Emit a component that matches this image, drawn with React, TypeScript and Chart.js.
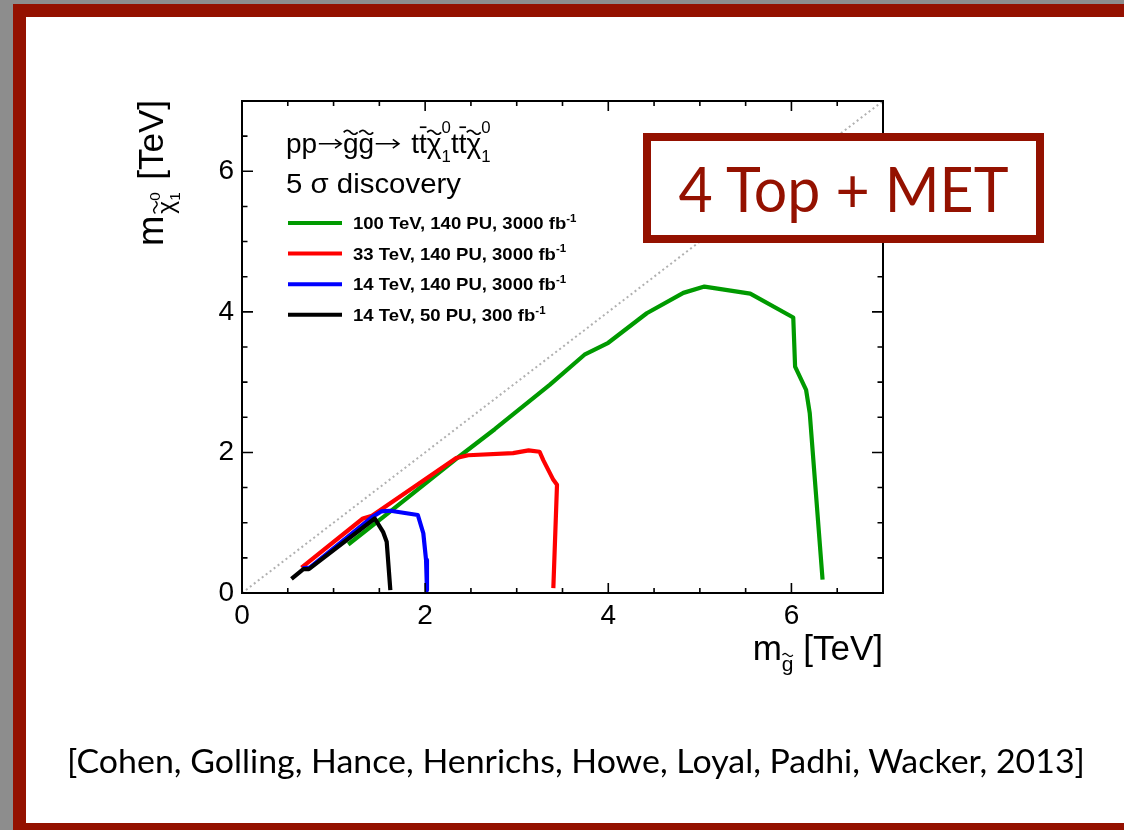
import React, { useEffect, useLayoutEffect, useRef } from 'react';
import { Chart, registerables } from 'chart.js';

Chart.register(...registerables);

// ---------------- data ----------------
const seriesLabels = [
  '100 TeV, 140 PU, 3000 fb',
  '33 TeV, 140 PU, 3000 fb',
  '14 TeV, 140 PU, 3000 fb',
  '14 TeV, 50 PU, 300 fb',
];
const lumiExponent = '-1';
const seriesColors = ['#009a00', '#ff0000', '#0000ff', '#000000'];

const green100X = [1.16, 1.6, 2.34, 2.76, 3.36, 3.74, 4.0, 4.42, 4.82, 5.05, 5.55, 6.02, 6.04, 6.16, 6.2, 6.34];
const green100Y = [0.69, 1.14, 1.91, 2.33, 2.96, 3.39, 3.56, 3.98, 4.27, 4.36, 4.26, 3.92, 3.22, 2.89, 2.56, 0.19];

const red33X = [0.65, 1.32, 1.42, 2.34, 2.47, 2.96, 3.13, 3.25, 3.29, 3.4, 3.44, 3.4];
const red33Y = [0.36, 1.06, 1.1, 1.92, 1.96, 1.99, 2.03, 2.01, 1.89, 1.61, 1.54, 0.07];

const blue14X = [0.66, 0.74, 1.42, 1.52, 1.62, 1.92, 1.98, 2.01, 2.02];
const blue14Y = [0.35, 0.36, 1.08, 1.16, 1.17, 1.11, 0.85, 0.47, 0.04];

const black14X = [0.54, 0.67, 0.73, 1.45, 1.54, 1.58, 1.62];
const black14Y = [0.2, 0.34, 0.34, 1.06, 0.87, 0.73, 0.04];

const diagonalX = [0, 7];
const diagonalY = [0, 7];

const axisMin = 0;
const axisMax = 7;
const xTickLabels = ['0', '2', '4', '6'];
const yTickLabels = ['0', '2', '4', '6'];
const minorTickStep = 0.5;
const majorTickStep = 2;

const boxText = '4 Top + MET';
const citation = '[Cohen, Golling, Hance, Henrichs, Howe, Loyal, Padhi, Wacker, 2013]';

// ---------------- drawing helpers ----------------
const FONT = '"Liberation Sans", Arial, Helvetica, sans-serif';
const SLIDE_RED = '#941100';

type Part = {
  t?: string;
  s?: number;
  dy?: number;
  tilde?: boolean;
  bar?: boolean;
  keep?: boolean;
  arrow?: number;
  gap?: number;
};

function drawTilde(ctx: CanvasRenderingContext2D, cx: number, cy: number, w: number, a: number, lw: number) {
  ctx.save();
  ctx.lineWidth = lw;
  ctx.strokeStyle = ctx.fillStyle as string;
  ctx.beginPath();
  for (let i = 0; i <= 16; i++) {
    const t = i / 16;
    const px = cx - w / 2 + t * w;
    const py = cy - a * Math.sin(2 * Math.PI * t);
    if (i === 0) ctx.moveTo(px, py);
    else ctx.lineTo(px, py);
  }
  ctx.stroke();
  ctx.restore();
}

function richText(
  ctx: CanvasRenderingContext2D,
  parts: Part[],
  x: number,
  y: number,
  size: number,
  weight: string,
  draw: boolean,
  sx = 1
): number {
  ctx.save();
  ctx.translate(x, y);
  ctx.scale(sx, 1);
  let cx = 0;
  for (const p of parts) {
    const s = (p.s ?? 1) * size;
    const by = (p.dy ?? 0) * size;
    if (p.gap) {
      cx += p.gap * size;
      continue;
    }
    if (p.arrow) {
      const w = p.arrow * s;
      if (draw) {
        const ay = by - 0.33 * s;
        ctx.save();
        ctx.strokeStyle = ctx.fillStyle as string;
        ctx.lineWidth = Math.max(1, 0.055 * s);
        ctx.beginPath();
        ctx.moveTo(cx + 0.06 * s, ay);
        ctx.lineTo(cx + w - 0.06 * s, ay);
        ctx.moveTo(cx + w - 0.28 * s, ay - 0.16 * s);
        ctx.lineTo(cx + w - 0.06 * s, ay);
        ctx.lineTo(cx + w - 0.28 * s, ay + 0.16 * s);
        ctx.stroke();
        ctx.restore();
      }
      cx += w;
      continue;
    }
    const txt = p.t ?? '';
    ctx.font = `${weight} ${s}px ${FONT}`;
    const w = ctx.measureText(txt).width;
    if (draw) {
      ctx.fillText(txt, cx, by);
      if (p.tilde) drawTilde(ctx, cx + w / 2, by - 0.74 * s, 0.5 * s, 0.07 * s, Math.max(1, 0.06 * s));
      if (p.bar) ctx.fillRect(cx + w * 0.1, by - 0.95 * s, w * 0.85, Math.max(1, 0.06 * s));
    }
    if (!p.keep) cx += w;
  }
  ctx.restore();
  return cx * sx;
}

const titleParts: Part[] = [
  { t: 'pp' },
  { arrow: 0.92 },
  { t: 'g', tilde: true },
  { t: 'g', tilde: true },
  { arrow: 0.95 },
  { gap: 0.38 },
  { t: 't' },
  { t: 't', bar: true },
  { t: 'χ', tilde: true },
  { t: '1', s: 0.6, dy: 0.32, keep: true },
  { t: '0', s: 0.6, dy: -0.72 },
  { t: 't' },
  { t: 't', bar: true },
  { t: 'χ', tilde: true },
  { t: '1', s: 0.6, dy: 0.32, keep: true },
  { t: '0', s: 0.6, dy: -0.72 },
];

const yTitleParts: Part[] = [
  { t: 'm', s: 1.04 },
  { gap: 0.06 },
  { t: 'χ', s: 0.7, dy: 0.3, tilde: true },
  { t: '1', s: 0.44, dy: 0.48, keep: true },
  { t: '0', s: 0.44, dy: -0.08 },
  { gap: 0.08 },
  { t: ' [TeV]' },
];

const xTitleParts: Part[] = [
  { t: 'm' },
  { t: 'g', s: 0.6, dy: 0.3, tilde: true },
  { t: ' [TeV]' },
];

const rootPlugin = {
  id: 'rootStyle',
  afterDatasetsDraw(chart: any) {
    const { ctx, chartArea: a, scales } = chart;
    const x = scales.x;
    const y = scales.y;
    ctx.save();
    ctx.strokeStyle = '#000';
    ctx.lineWidth = 1.6;
    ctx.beginPath();
    const n = Math.round((axisMax - axisMin) / minorTickStep);
    for (let i = 0; i <= n; i++) {
      const v = axisMin + i * minorTickStep;
      const major = Math.abs(v / majorTickStep - Math.round(v / majorTickStep)) < 1e-9;
      const px = x.getPixelForValue(v);
      const lx = major ? 10 : 5;
      ctx.moveTo(px, a.bottom);
      ctx.lineTo(px, a.bottom - lx);
      ctx.moveTo(px, a.top);
      ctx.lineTo(px, a.top + lx);
      const py = y.getPixelForValue(v);
      const ly = major ? 11 : 5.5;
      ctx.moveTo(a.left, py);
      ctx.lineTo(a.left + ly, py);
      ctx.moveTo(a.right, py);
      ctx.lineTo(a.right - ly, py);
    }
    ctx.stroke();
    ctx.lineWidth = 2;
    ctx.strokeRect(a.left, a.top, a.right - a.left, a.bottom - a.top);
    ctx.restore();
  },
  afterDraw(chart: any) {
    const { ctx, chartArea: a } = chart;
    ctx.save();
    ctx.fillStyle = '#000';
    ctx.textBaseline = 'alphabetic';
    ctx.textAlign = 'left';

    // process title
    richText(ctx, titleParts, a.left + 44, a.top + 52, 28, 'normal', true, 1.0);
    richText(ctx, [{ t: '5 σ discovery' }], a.left + 44, a.top + 92, 28, 'normal', true, 1.05);

    // legend
    const rowY0 = a.top + 122;
    const rowGap = 30.6;
    seriesLabels.forEach((label, i) => {
      const ry = rowY0 + i * rowGap;
      ctx.save();
      ctx.strokeStyle = seriesColors[i];
      ctx.lineWidth = 4;
      ctx.beginPath();
      ctx.moveTo(a.left + 46, ry);
      ctx.lineTo(a.left + 100, ry);
      ctx.stroke();
      ctx.restore();
      ctx.fillStyle = '#000';
      richText(
        ctx,
        [{ t: label }, { t: lumiExponent, s: 0.62, dy: -0.42 }],
        a.left + 111,
        ry + 6,
        17,
        'bold',
        true,
        1.09
      );
    });

    // x axis title (right aligned)
    const xw = richText(ctx, xTitleParts, 0, 0, 35, 'normal', false);
    richText(ctx, xTitleParts, a.right - xw, a.bottom + 67, 35, 'normal', true);

    // y axis title (rotated, right aligned to top)
    const yw = richText(ctx, yTitleParts, 0, 0, 35, 'normal', false);
    ctx.save();
    ctx.translate(a.left - 79, a.top - 1 + yw);
    ctx.rotate(-Math.PI / 2);
    richText(ctx, yTitleParts, 0, 0, 35, 'normal', true);
    ctx.restore();

    ctx.restore();
  },
};

function pts(xs: number[], ys: number[]) {
  return xs.map((v, i) => ({ x: v, y: ys[i] }));
}

export default function App() {
  const canvasRef = useRef<HTMLCanvasElement>(null);
  const citeRef = useRef<HTMLSpanElement>(null);
  const boxRef = useRef<HTMLSpanElement>(null);

  useLayoutEffect(() => {
    const fit = (el: HTMLElement | null, target: number) => {
      if (!el) return;
      el.style.transform = 'none';
      const w = el.getBoundingClientRect().width;
      if (w > 0) el.style.transform = `scaleX(${target / w})`;
    };
    fit(citeRef.current, 1018);
    fit(boxRef.current, 330);
  }, []);

  useEffect(() => {
    const line = (xs: number[], ys: number[], color: string, order: number) => ({
      data: pts(xs, ys),
      showLine: true,
      borderColor: color,
      backgroundColor: color,
      borderWidth: 4.2,
      pointRadius: 0,
      borderJoinStyle: 'round' as const,
      tension: 0,
      fill: false,
      order,
    });
    const chart = new Chart(canvasRef.current!, {
      type: 'scatter',
      data: {
        datasets: [
          {
            data: pts(diagonalX, diagonalY),
            showLine: true,
            borderColor: '#b0b0b0',
            borderWidth: 2,
            borderDash: [2, 3],
            pointRadius: 0,
            fill: false,
            order: 10,
          },
          line(green100X, green100Y, seriesColors[0], 4),
          line(red33X, red33Y, seriesColors[1], 3),
          line(blue14X, blue14Y, seriesColors[2], 2),
          line(black14X, black14Y, seriesColors[3], 1),
        ],
      },
      options: {
        animation: false,
        responsive: false,
        devicePixelRatio: 1,
        layout: { padding: { left: 192, right: 241, top: 101, bottom: 187 } },
        plugins: { legend: { display: false }, tooltip: { enabled: false }, title: { display: false } },
        scales: {
          x: {
            type: 'linear',
            min: axisMin,
            max: axisMax,
            grid: { display: false, drawTicks: false },
            border: { display: false },
            ticks: {
              stepSize: majorTickStep,
              includeBounds: false,
              maxRotation: 0,
              autoSkip: false,
              padding: 6,
              color: '#000',
              font: { family: FONT, size: 28 },
              callback: (v: any) => (xTickLabels.includes(String(v)) ? String(v) : ''),
            },
            afterFit: (s: any) => {
              s.height = 50;
            },
          },
          y: {
            type: 'linear',
            min: axisMin,
            max: axisMax,
            grid: { display: false, drawTicks: false },
            border: { display: false },
            ticks: {
              stepSize: majorTickStep,
              includeBounds: false,
              autoSkip: false,
              padding: 8,
              color: '#000',
              font: { family: FONT, size: 28 },
              callback: (v: any) => (yTickLabels.includes(String(v)) ? String(v) : ''),
            },
            afterFit: (s: any) => {
              s.width = 50;
            },
          },
        },
      } as any,
      plugins: [rootPlugin],
    });
    return () => chart.destroy();
  }, []);

  return (
    <div
      style={{
        position: 'absolute',
        left: 0,
        top: 0,
        width: 1124,
        height: 830,
        overflow: 'hidden',
        background: '#8d8d8d',
      }}
    >
      <div
        style={{
          position: 'absolute',
          left: 13,
          top: 4,
          width: 1200,
          height: 832,
          boxSizing: 'border-box',
          border: `13px solid ${SLIDE_RED}`,
          background: '#fff',
        }}
      />
      <canvas
        ref={canvasRef}
        width={1124}
        height={830}
        style={{ position: 'absolute', left: 0, top: 0, width: 1124, height: 830 }}
      />
      <div
        style={{
          position: 'absolute',
          left: 643,
          top: 133,
          width: 401,
          height: 110,
          boxSizing: 'border-box',
          border: `8px solid ${SLIDE_RED}`,
          background: '#fff',
          display: 'flex',
          alignItems: 'center',
          justifyContent: 'center',
        }}
      >
        <span
          ref={boxRef}
          style={{
            display: 'inline-block',
            fontFamily: 'Lato, "Open Sans", sans-serif',
            fontSize: 61,
            lineHeight: 1,
            color: SLIDE_RED,
            whiteSpace: 'nowrap',
            transformOrigin: 'center',
          }}
        >
          {boxText}
        </span>
      </div>
      <span
        ref={citeRef}
        style={{
          position: 'absolute',
          left: 67,
          top: 744,
          display: 'inline-block',
          fontFamily: 'Lato, "Open Sans", sans-serif',
          fontSize: 33,
          lineHeight: 1,
          color: '#000',
          whiteSpace: 'nowrap',
          transformOrigin: 'left top',
        }}
      >
        {citation}
      </span>
    </div>
  );
}
